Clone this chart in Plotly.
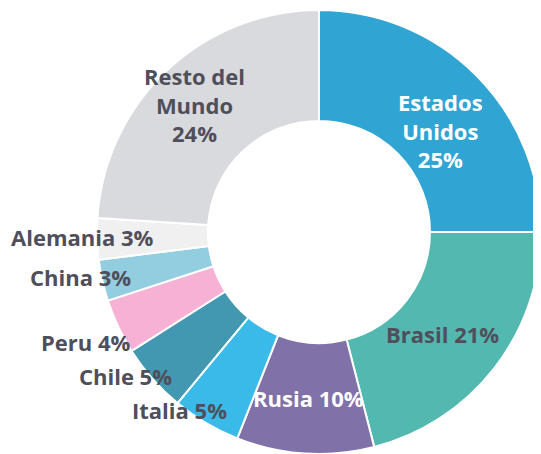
import math
import plotly.graph_objects as go

# ---- data ----
countries = ["Estados Unidos", "Brasil", "Rusia", "Italia", "Chile",
             "Peru", "China", "Alemania", "Resto del Mundo"]
values = [25, 21, 10, 5, 5, 4, 3, 3, 24]
display_names = ["Estados<br>Unidos", "Brasil", "Rusia", "Italia", "Chile",
                 "Peru", "China", "Alemania", "Resto del<br>Mundo"]

# ---- styles ----
colors = ["#30A5D3", "#53B8B0", "#8071A8", "#3ABAE9", "#4298B1",
          "#F6B1D5", "#93CDE0", "#F0F0F0", "#D9DADE"]
label_inside = [True, True, True, False, False, False, False, False, True]
label_colors = ["#FFFFFF", "#4F4F5B", "#FFFFFF", "#4F4F5B", "#4F4F5B",
                "#4F4F5B", "#4F4F5B", "#4F4F5B", "#4F4F5B"]
multiline = [True, False, False, False, False, False, False, False, True]
# pixel nudges for label placement
out_dx = [4, -8, 0, -26, -27, -32, -22, -15, -11]
out_dy = [-16, 0, 0, 13, 3, -15, 3, 2, 6]

PAGE_OFF = 8  # page body margin
W, H = 541 - PAGE_OFF, 454 - PAGE_OFF
CX, CY, R = 319 - PAGE_OFF, 232 - PAGE_OFF, 222
HOLE = 0.5
FONT = "Open Sans"
FSIZE = 22

fig = go.Figure(go.Pie(
    labels=countries,
    values=values,
    hole=HOLE,
    sort=False,
    direction="clockwise",
    rotation=0,
    marker=dict(colors=colors, line=dict(color="#FFFFFF", width=2)),
    textinfo="none",
    hoverinfo="label+percent",
    showlegend=False,
    domain=dict(x=[(CX - R) / W, min(1.0, (CX + R) / W)],
                y=[max(0.0, 1 - (CY + R) / H), 1 - (CY - R) / H]),
))

total = sum(values)
cum = 0
annotations = []
for i, v in enumerate(values):
    mid = (cum + v / 2) / total
    cum += v
    theta = 2 * math.pi * mid  # clockwise from 12 o'clock
    if label_inside[i]:
        r = R * (1 + HOLE) / 2
    else:
        r = R
    px = CX + r * math.sin(theta)
    py = CY - r * math.cos(theta)
    pct = round(100 * v / total)
    if multiline[i]:
        txt = f"{display_names[i]}<br>{pct}%"
    else:
        txt = f"{display_names[i]} {pct}%"
    annotations.append(dict(
        x=px / W, y=1 - py / H, xref="paper", yref="paper",
        text=f"<b>{txt}</b>", showarrow=False,
        xanchor="center", yanchor="middle", align="center",
        xshift=out_dx[i], yshift=out_dy[i],
        font=dict(family=FONT, size=FSIZE, color=label_colors[i]),
    ))

fig.update_layout(
    width=W, height=H,
    margin=dict(l=0, r=0, t=0, b=0),
    paper_bgcolor="#FFFFFF",
    plot_bgcolor="#FFFFFF",
    annotations=annotations,
)

fig.write_html("out.html")
